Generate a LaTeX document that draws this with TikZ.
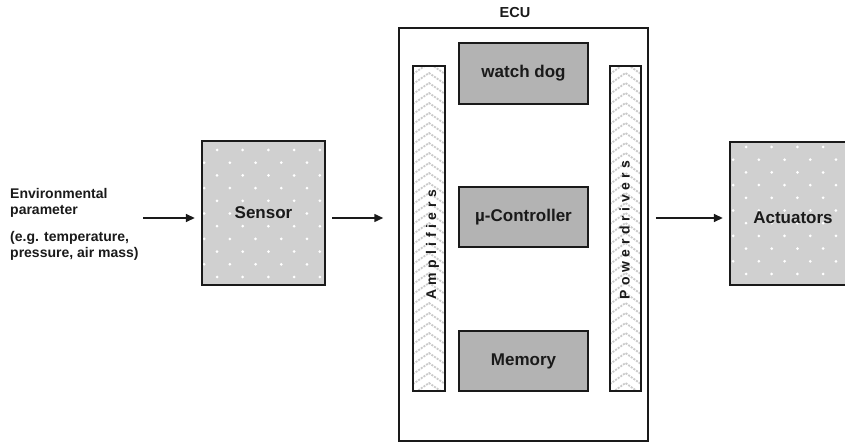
\documentclass[tikz,border=0pt]{standalone}
\usepackage{fontspec}
\setmainfont{Liberation Sans}
\usetikzlibrary{arrows.meta}
\definecolor{sensfill}{HTML}{D0D0D0}
\definecolor{innerfill}{HTML}{B3B3B3}
\definecolor{hatch}{HTML}{CACACA}
\definecolor{ink}{HTML}{1A1A1A}
\begin{document}
\begin{tikzpicture}[x=1pt,y=-1pt,
  every node/.style={font=\bfseries, text=ink},
  bigbox/.style={fill=sensfill, inner sep=0pt},
  border/.style={draw=ink, line width=2pt},
  lbl/.style={inner sep=0pt, font=\bfseries\fontsize{17}{20}\selectfont},
  innerbox/.style={draw=ink, line width=2pt, fill=innerfill, minimum width=129pt, minimum height=60pt, inner sep=0pt, font=\bfseries\fontsize{17}{20}\selectfont},
  bar/.style={fill=white, minimum height=325pt, inner sep=0pt},
  barborder/.style={draw=ink, line width=1.6pt},
  hatchline/.style={hatch, line width=1.8pt, dash pattern=on 2pt off 1.2pt},
  bartext/.style={rotate=90, anchor=west, inner sep=0pt, font=\bfseries\fontsize{14}{16}\selectfont\addfontfeatures{LetterSpace=33}},
  plain/.style={inner sep=0pt, align=left, font=\bfseries\fontsize{14}{16}\selectfont},
  arr/.style={line width=1.5pt, draw=ink, -{Triangle[length=9pt,width=8pt]}}
]
\useasboundingbox (0,0) rectangle (845,443);

% left texts
\node[plain, anchor=north west] (env) at (10,188) {Environmental\\parameter};
\node[plain, anchor=north west] (eg) at (10,231.5) {(e.g. temperature,\\pressure, air mass)};

% sensor with dots
\node[bigbox, minimum width=123pt, minimum height=144pt] (sensor) at (263.5,213) {};
\begin{scope}
  \clip (sensor.north west) rectangle (sensor.south east);
  \foreach \k in {0,...,11}{
    \foreach \j in {-1,...,5}{
      \pgfmathsetmacro\xx{217+25.7*\j-12.85*mod(\k,2)}
      \fill[white] (\xx,150+12.7*\k) circle (1.5pt);
    }
  }
\end{scope}
\draw[border] (sensor.north west) rectangle (sensor.south east);
\node[lbl] (sensorlbl) at (sensor.center) {Sensor};

% actuators with dots (right side cut by page edge)
\node[bigbox, minimum width=126pt, minimum height=143pt] (act) at (793,213.5) {};
\begin{scope}
  \clip (act.north west) rectangle (act.south east);
  \foreach \k in {0,...,11}{
    \foreach \j in {-1,...,5}{
      \pgfmathsetmacro\xx{746+25.7*\j-12.85*mod(\k,2)}
      \fill[white] (\xx,147+12.7*\k) circle (1.5pt);
    }
  }
\end{scope}
\draw[border] (act.north west) rectangle (act.south east);
\node[lbl] (actlbl) at (793,218) {Actuators};

% ECU
\node[draw=ink, line width=1.5pt, fill=white, minimum width=249pt, minimum height=413pt, inner sep=0pt] (ecu) at (523.5,234.5) {};
\node[inner sep=0pt, font=\bfseries\fontsize{14.5}{16}\selectfont] (ecul) at (515,13) {ECU};

% bars with chevron hatch
\node[bar, minimum width=32pt] (amp) at (429,228.5) {};
\begin{scope}
  \clip (amp.north west) rectangle (amp.south east);
  \foreach \k in {0,...,36}{
    \draw[hatchline] (413,64+10*\k) -- (429,53+10*\k) -- (445,64+10*\k);
  }
\end{scope}
\draw[barborder] (amp.north west) rectangle (amp.south east);
\node[bar, minimum width=31pt] (pd) at (625.5,228.5) {};
\begin{scope}
  \clip (pd.north west) rectangle (pd.south east);
  \foreach \k in {0,...,36}{
    \draw[hatchline] (610,64+10*\k) -- (625.5,53+10*\k) -- (641,64+10*\k);
  }
\end{scope}
\draw[barborder] (pd.north west) rectangle (pd.south east);
\node[bartext] (amptxt) at (432.5,300) {Amplifiers};
\node[bartext] (pdtxt) at (624.5,300) {Powerdrivers};

% inner boxes
\node[innerbox, minimum height=61pt] (wd) at (523.5,73.5) {watch dog};
\node[innerbox] (mc) at (523.5,217) {µ-Controller};
\node[innerbox] (mem) at (523.5,361) {Memory};

% arrows
\coordinate (ay) at (0,218);
\coordinate (a1) at (143,218);
\draw[arr, shorten >=7pt] (a1) -- (sensor.west |- ay);
\draw[arr, shorten <=7pt, shorten >=15pt] (sensor.east |- ay) -- (ecu.west |- ay);
\draw[arr, shorten <=7pt, shorten >=7pt] (ecu.east |- ay) -- (act.west |- ay);
\end{tikzpicture}
\end{document}
